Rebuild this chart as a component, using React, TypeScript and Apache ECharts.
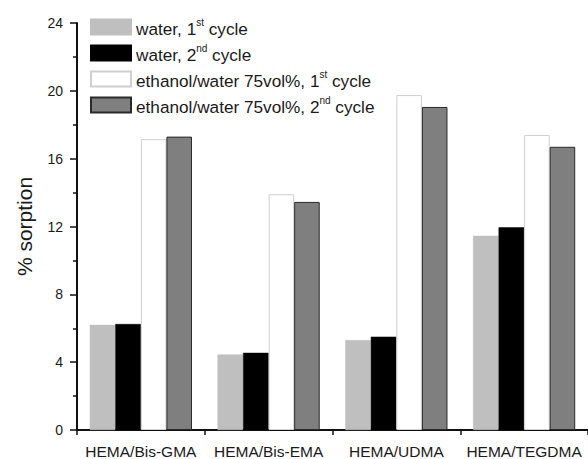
import React, { useEffect, useRef } from "react";
import * as echarts from "echarts";

const categories = ["HEMA/Bis-GMA", "HEMA/Bis-EMA", "HEMA/UDMA", "HEMA/TEGDMA"];
const water1 = [6.2, 4.45, 5.3, 11.45];
const water2 = [6.25, 4.55, 5.5, 11.95];
const eth1 = [17.15, 13.9, 19.75, 17.4];
const eth2 = [17.3, 13.45, 19.05, 16.7];
const yTicks = [0, 4, 8, 12, 16, 20, 24];

const FONT = "'Liberation Sans', Arial, sans-serif";

export default function App() {
  const ref = useRef<HTMLDivElement>(null);
  useEffect(() => {
    document.body.style.margin = "0";
    const chart = echarts.init(ref.current!, null, { renderer: "svg" });
    const legendText: Record<string, string> = {
      w1: "{t|water, 1}{s|st}{t| cycle}",
      w2: "{t|water, 2}{s|nd}{t| cycle}",
      e1: "{t|ethanol/water 75vol%, 1}{s|st}{t| cycle}",
      e2: "{t|ethanol/water 75vol%, 2}{s|nd}{t| cycle}",
    };
    chart.setOption({
      animation: false,
      backgroundColor: "#fff",
      textStyle: { fontFamily: FONT },
      grid: { left: 77, top: 23, bottom: 29, right: -11, containLabel: false },
      legend: {
        orient: "vertical",
        left: 85,
        top: 12,
        itemWidth: 40,
        itemHeight: 15,
        itemGap: 6,
        itemTextGap: 5,
        icon: "rect",
        formatter: (n: string) => legendText[n],
        textStyle: {
          fontFamily: FONT,
          rich: {
            t: { fontSize: 17.2, color: "#1a1a1a", fontFamily: FONT, verticalAlign: "bottom", lineHeight: 20 },
            s: { fontSize: 10, color: "#1a1a1a", fontFamily: FONT, verticalAlign: "top", lineHeight: 20, padding: [0, 0, 9, 0] },
          },
        },
      },
      xAxis: {
        type: "category",
        data: categories,
        axisLine: { lineStyle: { color: "#111", width: 2 } },
        axisTick: { show: true, interval: 0, length: 5, lineStyle: { color: "#111", width: 1.5 } },
        axisLabel: { interval: 0, fontSize: 15.5, color: "#1a1a1a", margin: 13, fontFamily: FONT },
      },
      yAxis: {
        type: "value",
        min: 0,
        max: 24,
        interval: 4,
        name: "% sorption",
        nameLocation: "middle",
        nameGap: 42,
        nameTextStyle: { fontSize: 21, color: "#1a1a1a", fontFamily: FONT },
        axisLine: { show: true, lineStyle: { color: "#111", width: 2 } },
        axisTick: { show: true, length: 7, lineStyle: { color: "#111", width: 1.5 } },
        minorTick: { show: true, splitNumber: 2, length: 4, lineStyle: { color: "#111", width: 1.5 } },
        splitLine: { show: false },
        axisLabel: {
          fontSize: 14,
          color: "#1a1a1a",
          margin: 14,
          fontFamily: FONT,
          formatter: (v: number) => (yTicks.includes(v) ? String(v) : ""),
        },
      },
      series: [
        {
          name: "w1",
          type: "bar",
          data: water1,
          barGap: "0%",
          barCategoryGap: "20%",
          itemStyle: { color: "#bfbfbf", borderColor: "#bfbfbf", borderWidth: 0.5 },
        },
        {
          name: "w2",
          type: "bar",
          data: water2,
          itemStyle: { color: "#000", borderColor: "#000", borderWidth: 0.5 },
        },
        {
          name: "e1",
          type: "bar",
          data: eth1,
          itemStyle: { color: "#fff", borderColor: "#cfcfcf", borderWidth: 1 },
        },
        {
          name: "e2",
          type: "bar",
          data: eth2,
          itemStyle: { color: "#7f7f7f", borderColor: "#2a2a2a", borderWidth: 1 },
        },
      ],
    });
    return () => chart.dispose();
  }, []);
  return <div ref={ref} style={{ width: 588, height: 459 }} />;
}
